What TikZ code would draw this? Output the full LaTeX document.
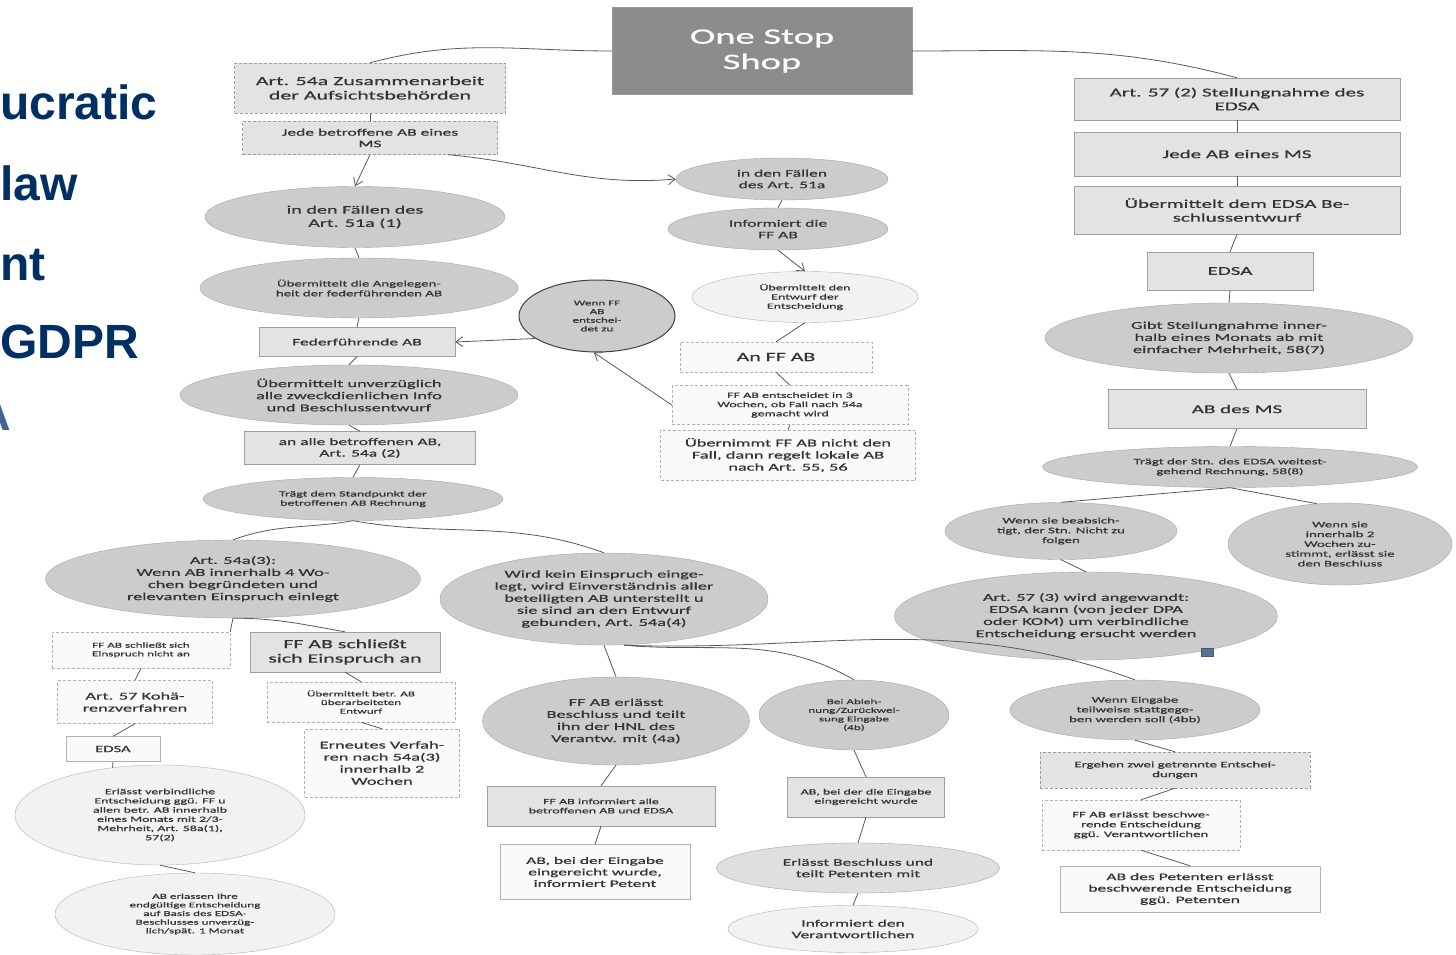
\documentclass[tikz,border=0pt]{standalone}
\usepackage{fontspec}
\setmainfont{Carlito}[FakeStretch=1.75,FakeBold=0.7]
\newfontfamily\bluefont{Liberation Sans}
\usetikzlibrary{shapes.geometric,arrows.meta}
\definecolor{navy}{RGB}{0,48,99}
\definecolor{navylight}{RGB}{70,100,145}
\definecolor{sqblue}{RGB}{90,112,144}
\newcommand\fsz[1]{\fontsize{#1}{#1}\selectfont\baselineskip=1.15\dimexpr#1pt\relax}
\tikzset{
  base/.style={align=center, text=black!80, inner sep=1pt},
  boxg/.style={base, rectangle, draw=gray!75, fill=gray!22},
  boxw/.style={base, rectangle, draw=gray!60, fill=gray!4},
  dboxg/.style={boxg, densely dashed},
  dboxw/.style={boxw, densely dashed},
  ellg/.style={base, ellipse, draw=gray!70, fill=gray!40, inner sep=0pt},
  ellw/.style={base, ellipse, draw=gray!60, fill=gray!10, inner sep=0pt},
  sz/.style 2 args={minimum width=#1pt, minimum height=#2pt},
  conn/.style={draw=black!65, line width=0.8pt},
  arr/.style={conn, -{Straight Barb[length=7pt,width=10pt]}},
  bigtext/.style={anchor=base west, inner sep=0pt, text=navy, font=\bluefont\bfseries\fontsize{48}{48}\selectfont},
}
\begin{document}
\begin{tikzpicture}[x=1pt,y=-1pt]
\useasboundingbox (0,0) rectangle (1456,955);
\fill[white] (0,0) rectangle (1456,955);
\begin{scope}
\clip (0,0) rectangle (1456,955);
\node[bigtext] (t1) at (0,120) {ucratic};
\node[bigtext] (t2) at (0,200) {law};
\node[bigtext] (t3) at (0,280) {nt};
\node[bigtext] (t4) at (0,358) {GDPR};
\node[bigtext, anchor=base east, text=navylight] (t5) at (11,430) {A};
\end{scope}

% One Stop Shop
\node[base, rectangle, draw=gray!80, fill=black!45, text=white!92, font=\fsz{22}, sz={300}{87}] (oss) at (762,51) {One Stop\\Shop};

% left column
\node[dboxg, sz={271}{50}, font=\fsz{12.5}] (a54) at (370,88) {Art. 54a Zusammenarbeit\\der Aufsichtsbehörden};
\node[dboxg, sz={255}{33}, font=\fsz{10}] (jede) at (370,138) {Jede betroffene AB eines\\MS};
\node[ellg, sz={300}{61}, font=\fsz{11.5}] (f51) at (355,217) {in den Fällen des\\Art. 51a (1)};
\node[ellg, sz={318}{60}, font=\fsz{8.5}] (uang) at (359,288) {Übermittelt die Angelegen-\\heit der federführenden AB};
\node[boxg, sz={196}{29}, font=\fsz{10}] (fed) at (357,342) {Federführende AB};
\node[ellg, sz={338}{60}, font=\fsz{10.5}] (uunv) at (349,395) {Übermittelt unverzüglich\\alle zweckdienlichen Info\\und Beschlussentwurf};
\node[boxg, sz={231}{33}, font=\fsz{10}] (anall) at (360,448) {an alle betroffenen AB,\\Art. 54a (2)};
\node[ellg, sz={300}{43}, font=\fsz{8}] (tds) at (353,499) {Trägt dem Standpunkt der\\betroffenen AB Rechnung};
\node[ellg, sz={156}{72}, draw=black!75, line width=1pt, font=\fsz{7.5}] (circ) at (597,316) {Wenn FF\\AB\\entschei-\\det zu};

% middle column
\node[ellg, sz={212}{42}, font=\fsz{10}] (m51) at (782,179) {in den Fällen\\des Art. 51a};
\node[ellg, sz={220}{42}, font=\fsz{10}] (minf) at (778,229) {Informiert die\\FF AB};
\node[ellw, sz={226}{51}, font=\fsz{8}] (mueb) at (805,297) {Übermittelt den\\Entwurf der\\Entscheidung};
\node[dboxw, sz={192}{30}, font=\fsz{12.5}] (anff) at (776,357) {An FF AB};
\node[dboxw, sz={236}{39}, font=\fsz{8}] (ffent) at (790,405) {FF AB entscheidet in 3\\Wochen, ob Fall nach 54a\\gemacht wird};
\node[dboxw, sz={255}{50}, font=\fsz{10.5}] (uebn) at (788,455) {Übernimmt FF AB nicht den\\Fall, dann regelt lokale AB\\nach Art. 55, 56};

% right column
\node[boxg, sz={326}{42}, font=\fsz{12}] (a57) at (1237,99) {Art. 57 (2) Stellungnahme des\\EDSA};
\node[boxg, sz={326}{44}, font=\fsz{12}] (jms) at (1237,154) {Jede AB eines MS};
\node[boxg, sz={326}{48}, font=\fsz{12}] (uedsa) at (1237,210) {Übermittelt dem EDSA Be-\\schlussentwurf};
\node[boxg, sz={166}{38}, font=\fsz{12}] (edsa) at (1230,271) {EDSA};
\node[ellg, sz={368}{70}, font=\fsz{10.5}] (gibt) at (1229,338) {Gibt Stellungnahme inner-\\halb eines Monats ab mit\\einfacher Mehrheit, 58(7)};
\node[boxg, sz={258}{39}, font=\fsz{12}] (abms) at (1237,409) {AB des MS};
\node[ellg, sz={375}{41}, font=\fsz{8.5}] (tragt) at (1230,467) {Trägt der Stn. des EDSA weitest-\\gehend Rechnung, 58(8)};
\node[ellg, sz={232}{57}, font=\fsz{8.5}] (beab) at (1061,531) {Wenn sie beabsich-\\tigt, der Stn. Nicht zu\\folgen};
\node[ellg, sz={224}{82}, font=\fsz{8.5}] (inner) at (1340,544) {Wenn sie\\innerhalb 2\\Wochen zu-\\stimmt, erlässt sie\\den Beschluss};
\node[ellg, sz={383}{88}, font=\fsz{10.5}] (a573) at (1086,616) {Art. 57 (3) wird angewandt:\\EDSA kann (von jeder DPA\\oder KOM) um verbindliche\\Entscheidung ersucht werden};
\node[rectangle, fill=sqblue, draw=sqblue!80!black, inner sep=0pt, sz={12}{8}] (sq) at (1207,652) {};

% bottom left
\node[ellg, sz={375}{78}, font=\fsz{10.5}] (e543) at (233,579) {Art. 54a(3):\\Wenn AB innerhalb 4 Wo-\\chen begründeten und\\relevanten Einspruch einlegt};
\node[dboxw, sz={178}{36}, font=\fsz{7.5}] (nicht) at (141,650) {FF AB schließt sich\\Einspruch nicht an};
\node[boxg, sz={190}{40}, font=\fsz{12.5}] (schl) at (345,652) {FF AB schließt\\sich Einspruch an};
\node[dboxw, sz={155}{43}, font=\fsz{10.5}] (koh) at (135,702) {Art. 57 Kohä-\\renzverfahren};
\node[boxw, sz={94}{25}, font=\fsz{9.5}] (edsa2) at (113,749) {EDSA};
\node[ellw, sz={290}{100}, font=\fsz{8}] (erl) at (160,815) {Erlässt verbindliche\\Entscheidung ggü. FF u\\allen betr. AB innerhalb\\eines Monats mit 2/3-\\Mehrheit, Art. 58a(1),\\57(2)};
\node[ellw, sz={280}{82}, font=\fsz{7.5}] (aberl) at (195,914) {AB erlassen ihre\\endgültige Entscheidung\\auf Basis des EDSA-\\Beschlusses unverzüg-\\lich/spät. 1 Monat};
\node[dboxw, sz={188}{40}, font=\fsz{7.5}] (uebtr) at (361,702) {Übermittelt betr. AB\\überarbeiteten\\Entwurf};
\node[dboxw, sz={155}{68}, font=\fsz{10.5}] (erneut) at (382,763) {Erneutes Verfah-\\ren nach 54a(3)\\innerhalb 2\\Wochen};

% bottom middle
\node[ellg, sz={328}{92}, font=\fsz{10.5}] (wird) at (604,599) {Wird kein Einspruch einge-\\legt, wird Einverständnis aller\\beteiligten AB unterstellt u\\sie sind an den Entwurf\\gebunden, Art. 54a(4)};
\node[ellg, sz={267}{88}, font=\fsz{10.5}] (ffe) at (616,721) {FF AB erlässt\\Beschluss und teilt\\ihn der HNL des\\Verantw. mit (4a)};
\node[boxg, sz={228}{40}, font=\fsz{8}] (ffinf) at (601,806) {FF AB informiert alle\\betroffenen AB und EDSA};
\node[boxw, sz={190}{55}, font=\fsz{10}] (abpet) at (595,872) {AB, bei der Eingabe\\eingereicht wurde,\\informiert Petent};
\node[ellg, sz={190}{70}, font=\fsz{7.5}] (ablehn) at (854,715) {Bei Ableh-\\nung/Zurückwei-\\sung Eingabe\\(4b)};
\node[boxg, sz={157}{40}, font=\fsz{8}] (abdie) at (866,797) {AB, bei der die Eingabe\\eingereicht wurde};
\node[ellg, sz={283}{50}, fill=gray!25, font=\fsz{10}] (erlb) at (858,868) {Erlässt Beschluss und\\teilt Petenten mit};
\node[ellw, sz={250}{47}, font=\fsz{10}] (infv) at (853,929) {Informiert den\\Verantwortlichen};

% bottom right
\node[ellg, sz={250}{60}, font=\fsz{8.5}] (wenn) at (1135,710) {Wenn Eingabe\\teilweise stattgege-\\ben werden soll (4bb)};
\node[dboxg, sz={270}{36}, font=\fsz{8.5}] (ergeh) at (1175,770) {Ergehen zwei getrennte Entschei-\\dungen};
\node[dboxw, sz={198}{50}, font=\fsz{8.5}] (ffbes) at (1141,825) {FF AB erlässt beschwe-\\rende Entscheidung\\ggü. Verantwortlichen};
\node[boxw, sz={260}{46}, font=\fsz{10}] (abpt) at (1190,889) {AB des Petenten erlässt\\beschwerende Entscheidung\\ggü. Petenten};

% connectors
\draw[conn] (oss.west) to[out=180,in=15] (a54.north);
\draw[conn] (oss.east) to[out=0,in=165] (a57.north);
\draw[conn] (a54.south) -- (jede.north);
\draw[arr] (jede.south) -- (f51.north);
\draw[arr] ([xshift=-50pt]jede.south east) to[out=-5,in=185] (m51.west);
\draw[conn] (f51.south) -- (uang.north);
\draw[conn] (uang.south) -- (fed.north);
\draw[conn] (fed.south) -- (uunv.north);
\draw[conn] (uunv.south) -- (anall.north);
\draw[conn] (anall.south) -- (tds.north);
\draw[arr] (circ.200) -- (fed.east);
\draw[arr] (ffent.west) -- (circ.-95);
\draw[conn] (m51.south) -- (minf.north);
\draw[arr] (minf.south) -- (mueb.north);
\draw[conn] (mueb.south) -- (anff.north);
\draw[conn] (anff.south) -- (ffent.north);
\draw[conn] (ffent.south) -- (uebn.north);

\draw[conn] (a57.south) -- (jms.north);
\draw[conn] (jms.south) -- (uedsa.north);
\draw[conn] (uedsa.south) -- (edsa.north);
\draw[conn] (edsa.south) -- (gibt.north);
\draw[conn] (gibt.south) -- (abms.north);
\draw[conn] (abms.south) -- (tragt.north);
\draw[conn] (tragt.south) -- (beab.north);
\draw[conn] (tragt.south) -- (inner.120);
\draw[conn] (beab.south) -- (a573.north);

\draw[conn] (tds.south) to[out=190,in=20] (e543.north);
\draw[conn] (tds.south) to[out=-10,in=160] (wird.north);
\draw[conn] (e543.south) -- (nicht.north east);
\draw[conn] (e543.south) to[out=0,in=170] (schl.north);
\draw[conn] (nicht.south) -- (koh.north);
\draw[conn] (koh.south) -- (edsa2.north);
\draw[conn] (edsa2.south) -- (erl.135);
\draw[conn] (erl.south) -- (aberl.north);
\draw[conn] (schl.south) -- (uebtr.north);
\draw[conn] (uebtr.south) -- (erneut.north);

\draw[conn] (wird.south) -- (ffe.north);
\draw[conn] ([xshift=20pt]wird.south) to[out=-5,in=150] (ablehn.north);
\draw[conn] ([xshift=20pt]wird.south) to[out=-2,in=160] (wenn.north);
\draw[conn] (ffe.south) -- (ffinf.north);
\draw[conn] (ffinf.south) -- (abpet.north);
\draw[conn] (ablehn.south) -- (abdie.north);
\draw[conn] (abdie.south) -- (erlb.north);
\draw[conn] (erlb.south) -- (infv.north);
\draw[conn] (wenn.south) -- (ergeh.north);
\draw[conn] (ergeh.south) -- (ffbes.north);
\draw[conn] (ffbes.south) -- (abpt.north);
\end{tikzpicture}
\end{document}
